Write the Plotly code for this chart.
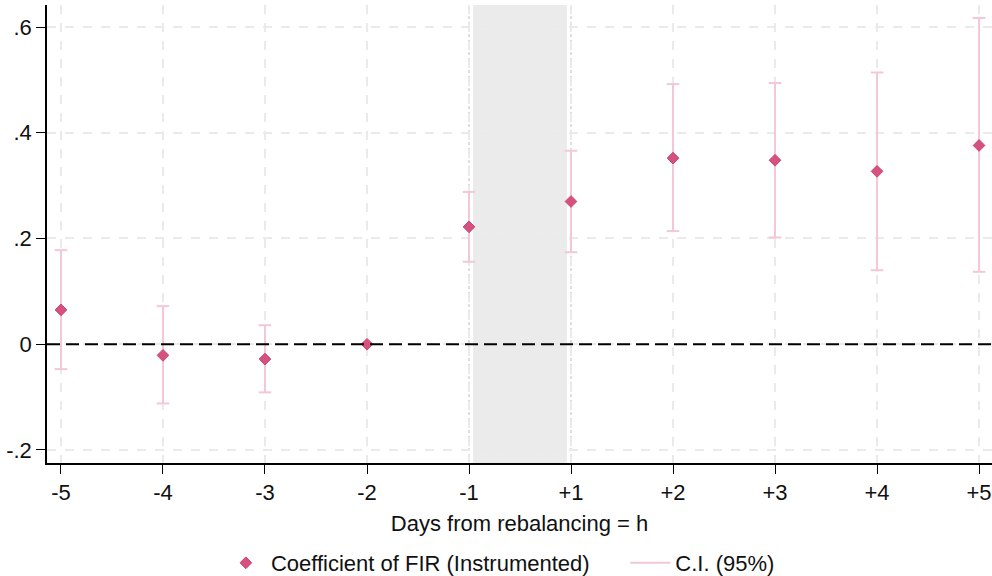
import plotly.graph_objects as go

categories = ["-5", "-4", "-3", "-2", "-1", "+1", "+2", "+3", "+4", "+5"]
coef = [0.065, -0.021, -0.028, 0.0, 0.222, 0.270, 0.352, 0.348, 0.327, 0.376]
ci_low = [-0.047, -0.112, -0.091, None, 0.156, 0.174, 0.214, 0.202, 0.140, 0.137]
ci_high = [0.178, 0.072, 0.036, None, 0.288, 0.366, 0.492, 0.494, 0.514, 0.617]
y_tickvals = [-0.2, 0, 0.2, 0.4, 0.6]
y_ticktext = ["-.2", "0", ".2", ".4", ".6"]

FONT = "Liberation Sans, Arial, sans-serif"
MARK = "#D6517D"
CI_COL = "#F3C8D4"

# build CI segments from the data
seg_x, seg_y, cap_x, cap_y = [], [], [], []
for c, lo, hi in zip(categories, ci_low, ci_high):
    if lo is None or hi is None:
        continue
    seg_x += [c, c, None]
    seg_y += [lo, hi, None]
    cap_x += [c, c]
    cap_y += [lo, hi]

fig = go.Figure()

fig.add_trace(go.Scatter(
    x=seg_x, y=seg_y, mode="lines", name="C.I. (95%)", legend="legend2",
    line=dict(color=CI_COL, width=2), connectgaps=False,
))
fig.add_trace(go.Scatter(
    x=cap_x, y=cap_y, mode="markers", showlegend=False, hoverinfo="skip",
    marker=dict(symbol="line-ew", size=9, line=dict(color=CI_COL, width=2)),
))
fig.add_trace(go.Scatter(
    x=categories, y=coef, mode="markers", name="Coefficient of FIR (Instrumented)",
    legend="legend",
    marker=dict(symbol="diamond", size=9, color=MARK,
                line=dict(color="#C8466F", width=1)),
))

# shaded band between -1 and +1
fig.add_shape(type="rect", xref="x", yref="paper", x0=4.04, x1=4.96, y0=0, y1=1,
              fillcolor="#EBEBEB", line=dict(width=0), layer="below")
for xv in [4, 5]:
    fig.add_shape(type="line", xref="x", yref="paper", x0=xv, x1=xv, y0=0, y1=1,
                  line=dict(color="#BDBDBD", width=1, dash="dot"), layer="below")
# zero line
fig.add_shape(type="line", xref="paper", yref="y", x0=0, x1=1, y0=0, y1=0,
              line=dict(color="black", width=2, dash="13px,6px"), layer="above")

leg_common = dict(orientation="h", yref="container", y=0.0226, yanchor="middle",
                  xanchor="left", font=dict(size=22), itemwidth=40,
                  bgcolor="rgba(0,0,0,0)")
fig.update_layout(
    width=992, height=576,
    margin=dict(l=47, r=0, t=5, b=113, autoexpand=False),
    plot_bgcolor="white", paper_bgcolor="white",
    font=dict(family=FONT, size=22, color="#111111"),
    showlegend=True,
    legend=dict(x=0.184, **leg_common),
    legend2=dict(x=0.612, **leg_common),
)
fig.update_xaxes(
    type="category", categoryorder="array", categoryarray=categories,
    range=[-0.137, 9.127],
    showline=True, linecolor="black", linewidth=1.5,
    ticks="outside", ticklen=9, tickcolor="black", tickwidth=1,
    showgrid=True, gridcolor="#EAEAEA", gridwidth=1.5, griddash="dash",
    title=dict(text="Days from rebalancing = h", font=dict(size=22), standoff=11),
    zeroline=False,
)
fig.update_yaxes(
    range=[-0.2246, 0.6416],
    tickvals=y_tickvals, ticktext=y_ticktext,
    showline=True, linecolor="black", linewidth=1.5,
    ticks="outside", ticklen=9, tickcolor="black", tickwidth=1,
    showgrid=True, gridcolor="#EAEAEA", gridwidth=1.5, griddash="dash",
    zeroline=False,
)

fig.write_html("out.html", config={"displayModeBar": False},
               post_script="document.body.style.margin='0px';")
